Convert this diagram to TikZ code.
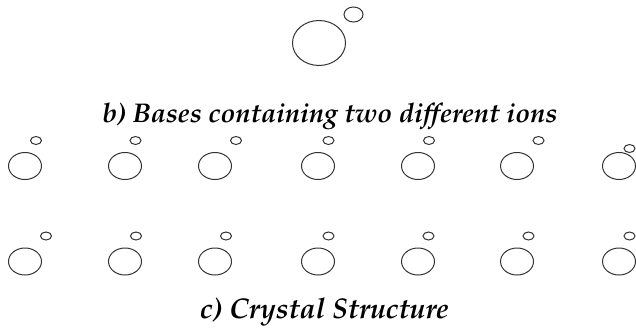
\documentclass[tikz,border=0pt]{standalone}
\usepackage[T1]{fontenc}
\usepackage{mathpazo}
\tikzset{
  ion/.style={draw=black!80, line width=1pt},
  caption/.style={font=\bfseries\itshape, inner sep=0pt, anchor=base}
}
\begin{document}
\begin{tikzpicture}[x=1pt,y=-1pt]
\useasboundingbox (0,0) rectangle (636,329);
% top pair
\draw[ion] (319,43) ellipse [x radius=26.5, y radius=22.5];
\draw[ion] (353.5,14.5) ellipse [x radius=9.5, y radius=7.5];
\node[caption, font=\fontsize{27}{32}\selectfont\bfseries\itshape] (capb) at (330,122) {b) Bases containing two different ions};
% row 1
\foreach \bx/\sx/\sy in {25/36/140.5, 125/135.5/140.5, 215/236/140.5, 318/328.5/140.5, 418/429/140.5, 517/538.5/140.5, 619/629.5/148.5}{
  \draw[ion] (\bx,166) ellipse [x radius=16.5, y radius=13.5];
  \draw[ion] (\sx,\sy) ellipse [x radius=5.5, y radius=4];
}
% row 2
\foreach \bx/\sx in {25/46, 125/136, 215/226, 318/328.5, 418/428.5, 517/528.5, 619/629.5}{
  \draw[ion] (\bx,261.5) ellipse [x radius=16.5, y radius=13.5];
  \draw[ion] (\sx,236) ellipse [x radius=5.5, y radius=4];
}
\node[caption, font=\fontsize{28.5}{34}\selectfont\bfseries\itshape] (capc) at (324.5,318) {c) Crystal Structure};
\end{tikzpicture}
\end{document}
